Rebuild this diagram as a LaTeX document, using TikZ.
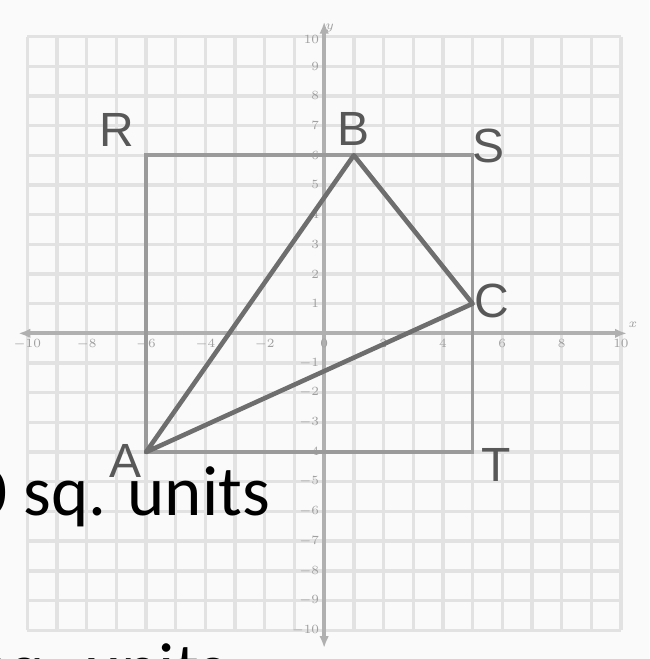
\documentclass[tikz,border=0pt]{standalone}
\usepackage{fontspec}
\setmainfont{Liberation Sans}
\newfontfamily\slidefont{Carlito}
\usetikzlibrary{arrows.meta,positioning}
\definecolor{Sheet}{HTML}{FAFAFA}
\definecolor{GridLine}{HTML}{E2E2E2}
\definecolor{AxisLine}{HTML}{B0B0B0}
\definecolor{TickInk}{HTML}{A0A0A0}
\definecolor{Frame}{HTML}{9A9A9A}
\definecolor{Side}{HTML}{6E6E6E}
\definecolor{Ink}{HTML}{585858}
\tikzset{
  gridline/.style={draw=GridLine,line width=1.6pt},
  axisline/.style={draw=AxisLine,line width=1.8pt},
  frameline/.style={draw=Frame,line width=1.7pt},
  sideline/.style={draw=Side,line width=2.2pt,line join=round},
  vlabel/.style={text=Ink,font=\fontsize{23}{23}\selectfont,inner sep=0pt},
  ticklabel/.style={text=TickInk,font=\fontsize{6}{6}\selectfont,inner sep=0.5pt},
  slidetext/.style={text=black,font=\slidefont\fontsize{34}{34}\selectfont,inner sep=0pt,anchor=base west}
}
\begin{document}
\begin{tikzpicture}[x=0.5cm,y=0.5cm]
  % page
  \fill[Sheet] (-10.92,-10.97) rectangle (10.96,11.23);
  \useasboundingbox (-10.92,-10.97) rectangle (10.96,11.23);
  % grid
  \foreach \k in {-10,...,10} {
    \draw[gridline] (\k,-10) -- (\k,10);
    \draw[gridline] (-10,\k) -- (10,\k);
  }
  % axes
  \coordinate (xlo) at (-10.3,0);
  \coordinate (xhi) at (10.2,0);
  \coordinate (ylo) at (0,-10.6);
  \coordinate (yhi) at (0,10.5);
  \draw[axisline,{Latex[length=2mm,width=1.6mm]}-{Latex[length=2mm,width=1.6mm]}] (xlo) -- (xhi);
  \draw[axisline,{Latex[length=2mm,width=1.6mm]}-{Latex[length=2mm,width=1.6mm]}] (ylo) -- (yhi);
  \foreach \k in {-10,-8,-6,-4,-2,0,2,4,6,8,10}
    \node[ticklabel,below] (xt\k) at (\k,-0.15) {$\k$};
  \foreach \k in {-10,...,-1,1,2,...,9}
    \node[ticklabel,left] (yt\k) at (-0.12,\k) {$\k$};
  \node[ticklabel,left] (yt10) at (-0.12,9.9) {$10$};
  \node[ticklabel,above right] (ylab) at (0,10.1) {$y$};
  \node[ticklabel,above] (xlab) at (10.4,0.15) {$x$};
  % vertices
  \coordinate (A) at (-6,-4);
  \coordinate (B) at (1,6);
  \coordinate (C) at (5,1);
  \coordinate (R) at (-6,6);
  \coordinate (S) at (5,6);
  \coordinate (T) at (5,-4);
  \draw[frameline] (R) -- (S) -- (T) -- (A) -- cycle;
  \draw[sideline] (A) -- (B) -- (C) -- cycle;
  \node[vlabel] (Rl) at ([shift={(-1.0,0.85)}]R) {R};
  \node[vlabel] (Bl) at ([shift={(0,0.9)}]B) {B};
  \node[vlabel] (Sl) at ([shift={(0.55,0.3)}]S) {S};
  \node[vlabel] (Cl) at ([shift={(0.65,0.08)}]C) {C};
  \node[vlabel] (Al) at ([shift={(-0.68,-0.3)}]A) {A};
  \node[vlabel] (Tl) at ([shift={(0.78,-0.45)}]T) {T};
  % overlapping slide text
  \node[slidetext] (area1) at (-11.9,-6.15) {0 sq. units};
  \node[slidetext] (area2) at (-11.6,-12.1) {sq. units};
\end{tikzpicture}
\end{document}
